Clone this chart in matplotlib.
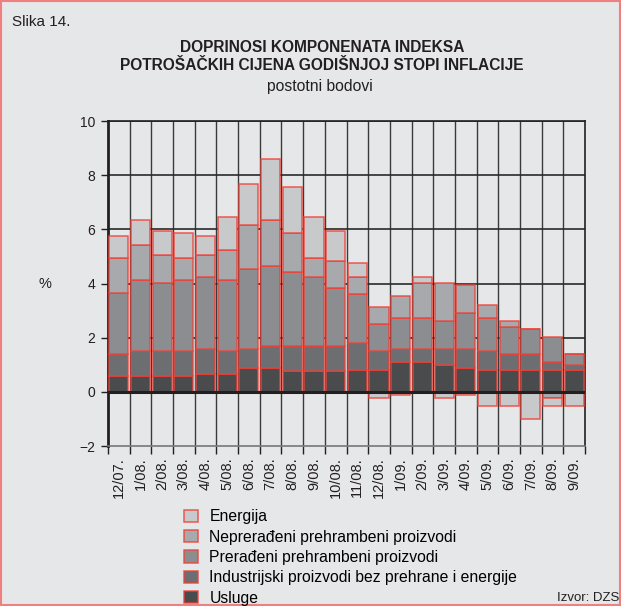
import numpy as np
import matplotlib
matplotlib.use("Agg")
import matplotlib.pyplot as plt
from matplotlib.patches import Rectangle, Patch

plt.rcParams['font.family'] = ['Liberation Sans', 'DejaVu Sans']

mjeseci = ["12/07.", "1/08.", "2/08.", "3/08.", "4/08.", "5/08.", "6/08.", "7/08.",
           "8/08.", "9/08.", "10/08.", "11/08.", "12/08.", "1/09.", "2/09.", "3/09.",
           "4/09.", "5/09.", "6/09.", "7/09.", "8/09.", "9/09."]

usluge = [0.57, 0.57, 0.57, 0.57, 0.67, 0.67, 0.88, 0.88, 0.78, 0.78, 0.78,
          0.80, 0.80, 1.09, 1.09, 0.99, 0.89, 0.80, 0.80, 0.80, 0.80, 0.80]
industrijski = [0.83, 0.94, 0.94, 0.94, 0.93, 0.84, 0.72, 0.82, 0.92, 0.92, 0.92,
                1.00, 0.72, 0.51, 0.51, 0.61, 0.71, 0.72, 0.60, 0.60, 0.29, 0.18]
preradeni = [2.24, 2.63, 2.51, 2.63, 2.63, 2.63, 2.93, 2.93, 2.73, 2.53, 2.13,
             1.83, 0.99, 1.12, 1.12, 1.02, 1.31, 1.20, 1.01, 0.91, 0.92, 0.42]
nepreradeni = [1.31, 1.29, 1.02, 0.81, 0.81, 1.11, 1.62, 1.73, 1.42, 0.72, 1.01,
               0.60, 0.61, 0.81, 1.30, 1.40, 1.04, 0.50, 0.19, 0.00, -0.21, 0.00]
energija = [0.79, 0.93, 0.91, 0.90, 0.70, 1.21, 1.52, 2.22, 1.72, 1.51, 1.11,
            0.51, -0.21, -0.12, 0.21, -0.21, -0.12, -0.52, -0.52, -1.01, -0.31, -0.52]

# od dna prema vrhu
serije = [
    ("Usluge", usluge, "#4a4b4d"),
    ("Industrijski proizvodi bez prehrane i energije", industrijski, "#6d6e71"),
    ("Prerađeni prehrambeni proizvodi", preradeni, "#8b8d90"),
    ("Neprerađeni prehrambeni proizvodi", nepreradeni, "#a7a9ac"),
    ("Energija", energija, "#c8c9cb"),
]

bg = "#e6e7e8"
rub = (0.94, 0.25, 0.21, 0.85)

fig = plt.figure(figsize=(6.21, 6.06), dpi=100, facecolor=bg)
ax = fig.add_axes([108/621, 1-446/606, 477/621, 325/606], facecolor=bg)

x = np.arange(len(mjeseci))
pos = np.zeros(len(x))
neg = np.zeros(len(x))
for naziv, vals, boja in serije:
    v = np.array(vals)
    dno = np.where(v >= 0, pos, neg)
    ax.bar(x, v, 0.88, bottom=dno, color=boja, edgecolor=rub, linewidth=1.1, zorder=3)
    pos = pos + np.where(v > 0, v, 0)
    neg = neg + np.where(v < 0, v, 0)

ax.set_xlim(-0.5, len(x) - 0.5)
ax.set_ylim(-2, 10)

# mreža
for g in np.arange(0.5, len(x) - 0.5):
    ax.axvline(g, color="#3a3a3a", lw=1.0, zorder=1)
for h in [2, 4, 6, 8, 10]:
    ax.axhline(h, color="#2a2a2a", lw=1.2, zorder=1)
ax.axhline(0, color="#231f20", lw=2.2, zorder=4)

for s in ax.spines.values():
    s.set_color("#231f20")
ax.spines['left'].set_linewidth(2.0)
ax.spines['bottom'].set_color("#777777")
ax.spines['bottom'].set_linewidth(1.2)
ax.spines['right'].set_linewidth(1.2)
ax.spines['top'].set_linewidth(1.2)

ax.set_yticks([-2, 0, 2, 4, 6, 8, 10])
ax.set_yticklabels(["\u22122", "0", "2", "4", "6", "8", "10"])
ax.tick_params(axis='y', labelsize=10, length=5, width=1, color="#231f20",
               labelcolor="#231f20", pad=4)

ax.set_xticks(x)
ax.set_xticklabels(mjeseci, rotation=90, fontsize=10.5, color="#231f20")
ax.tick_params(axis='x', which='major', length=0, pad=8)
ax.set_xticks(np.arange(-0.5, len(x)), minor=True)
ax.tick_params(axis='x', which='minor', length=6, width=1, color="#231f20")

fig.text(45/621, 1-284/606, "%", fontsize=10.5, ha="center", va="center", color="#231f20")

fig.text(12/621, 1-22/606, "Slika 14.", fontsize=11, ha="left", va="center", color="#231f20")
fig.text(322/621, 1-47/606, "DOPRINOSI KOMPONENATA INDEKSA", fontsize=11.2,
         fontweight="bold", ha="center", va="center", color="#231f20")
fig.text(322/621, 1-66/606, "POTROŠAČKIH CIJENA GODIŠNJOJ STOPI INFLACIJE", fontsize=11.2,
         fontweight="bold", ha="center", va="center", color="#231f20")
fig.text(320/621, 1-86/606, "postotni bodovi", fontsize=11.3, ha="center", va="center",
         color="#231f20")

handles = [Patch(facecolor=b, edgecolor=rub, linewidth=1.1, label=n)
           for n, _, b in reversed(serije)]
fig.legend(handles=handles, loc="upper left", bbox_to_anchor=(178/621, 1-503/606),
           frameon=False, fontsize=11.3, handlelength=0.85, handleheight=0.85,
           labelspacing=0.34, handletextpad=0.75, borderaxespad=0)

fig.text(619/621, 1-598/606, "Izvor: DZS", fontsize=9.5, ha="right", va="center",
         color="#231f20")

fig.patches.append(Rectangle((0.0015, 0.0015), 0.997, 0.997, transform=fig.transFigure,
                             fill=False, edgecolor="#f08080", linewidth=1.5))

fig.savefig("out.png", dpi=100, facecolor=bg)
